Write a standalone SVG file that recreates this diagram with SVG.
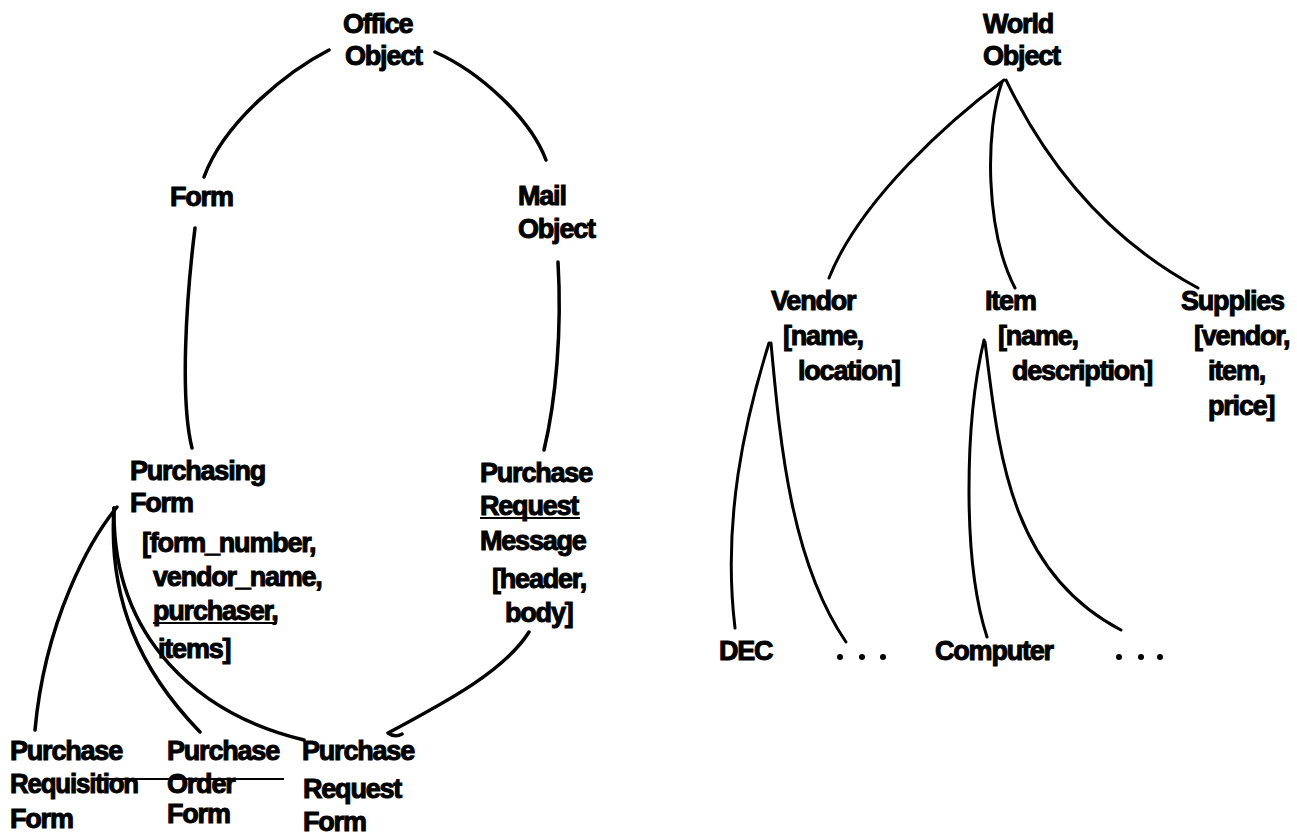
<svg xmlns="http://www.w3.org/2000/svg" width="1297" height="836" viewBox="0 0 1297 836">
<style>
.t{font-family:"Liberation Sans",Arial,sans-serif;font-weight:bold;font-size:27px;letter-spacing:-1.2px;fill:#000;stroke:#000;stroke-width:1px}
.c{fill:none;stroke:#000;stroke-linecap:round;stroke-linejoin:round}
.l{stroke-width:3.5px}
.r{stroke-width:3px}
.u{stroke:#000;stroke-width:2px}
</style>
<rect width="1297" height="836" fill="#fff"/>
<g id="connectors">
<path class="c l" d="M329 50 C290 70 225 120 204 177"/>
<path class="c l" d="M435 52 C480 72 530 118 546 160"/>
<path class="c l" d="M195 228 C186 300 180 400 192 448"/>
<path class="c l" d="M558 262 C562 330 556 400 544 450"/>
<path class="c l" d="M529 632 C505 670 450 700 388 733 Q395 738 402 734"/>
<path class="c l" d="M117 507 C90 540 45 620 35 730"/>
<path class="c l" d="M114 508 C108 600 140 670 200 732"/>
<path class="c l" d="M114 508 C112 640 200 715 304 740"/>
<line class="u" x1="98" y1="779" x2="284" y2="779"/>
<path class="c r" d="M1004 80 C950 120 860 200 829 278"/>
<path class="c r" d="M1002 82 C985 130 985 230 1015 288"/>
<path class="c r" d="M1006 80 C1035 140 1090 230 1198 288"/>
<path class="c r" d="M769 343 C745 420 722 520 735 628"/>
<path class="c r" d="M771 343 C780 440 790 560 846 642"/>
<path class="c r" d="M984 340 C965 420 962 560 987 637"/>
<path class="c r" d="M985 342 C998 440 1005 570 1121 630"/>
</g>
<g id="office-object"><text class="t" x="343" y="33">Office</text><text class="t" x="345" y="65">Object</text></g>
<g id="form"><text class="t" x="170" y="206">Form</text></g>
<g id="mail-object"><text class="t" x="518" y="205">Mail</text><text class="t" x="518" y="238">Object</text></g>
<g id="purchasing-form">
<text class="t" x="130" y="480">Purchasing</text>
<text class="t" x="130" y="512">Form</text>
<text class="t" x="142" y="552">[form_number,</text>
<text class="t" x="153" y="586">vendor_name,</text>
<text class="t" x="153" y="620">purchaser,</text>
<line class="u" x1="153" y1="623" x2="277" y2="623"/>
<text class="t" x="158" y="658">items]</text>
</g>
<g id="purchase-request-message">
<text class="t" x="480" y="482">Purchase</text>
<text class="t" x="480" y="515">Request</text>
<line class="u" x1="480" y1="518" x2="580" y2="518"/>
<text class="t" x="480" y="550">Message</text>
<text class="t" x="492" y="588">[header,</text>
<text class="t" x="505" y="622">body]</text>
</g>
<g id="purchase-requisition-form"><text class="t" x="10" y="760">Purchase</text><text class="t" x="10" y="793" textLength="128" lengthAdjust="spacingAndGlyphs">Requisition</text><text class="t" x="10" y="828">Form</text></g>
<g id="purchase-order-form"><text class="t" x="167" y="760">Purchase</text><text class="t" x="167" y="793">Order</text><text class="t" x="167" y="823">Form</text></g>
<g id="purchase-request-form"><text class="t" x="302" y="760">Purchase</text><text class="t" x="303" y="798">Request</text><text class="t" x="303" y="831">Form</text></g>
<g id="world-object"><text class="t" x="983" y="33">World</text><text class="t" x="983" y="65">Object</text></g>
<g id="vendor"><text class="t" x="771" y="310">Vendor</text><text class="t" x="783" y="345">[name,</text><text class="t" x="798" y="380">location]</text></g>
<g id="item"><text class="t" x="985" y="310">Item</text><text class="t" x="998" y="345">[name,</text><text class="t" x="1012" y="380">description]</text></g>
<g id="supplies"><text class="t" x="1181" y="310">Supplies</text><text class="t" x="1194" y="345">[vendor,</text><text class="t" x="1208" y="380">item,</text><text class="t" x="1208" y="415">price]</text></g>
<g id="dec"><text class="t" x="719" y="660">DEC</text></g>
<g id="vendor-more"><circle cx="840" cy="657" r="3"/><circle cx="862" cy="657" r="3"/><circle cx="883" cy="657" r="3"/></g>
<g id="computer"><text class="t" x="935" y="660">Computer</text></g>
<g id="item-more"><circle cx="1119" cy="657" r="3"/><circle cx="1141" cy="657" r="3"/><circle cx="1160" cy="657" r="3"/></g>
</svg>
